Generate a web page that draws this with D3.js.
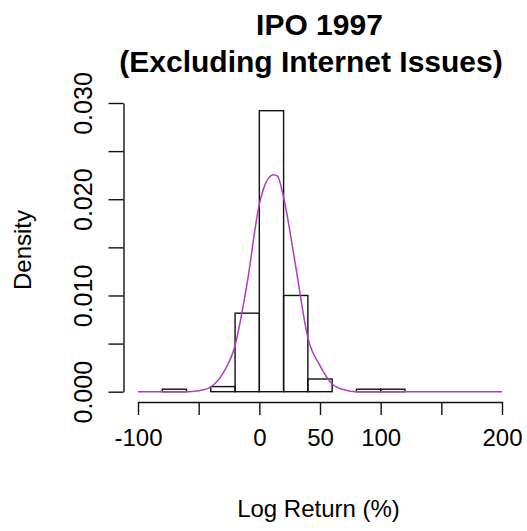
<!DOCTYPE html>
<html>
<head>
<meta charset="utf-8">
<script src="https://cdn.jsdelivr.net/npm/d3@7"></script>
<style>
  html, body { margin: 0; padding: 0; background: #fff; }
  svg { display: block; }
  text { font-family: "Liberation Sans", Arial, sans-serif; fill: #000; }
</style>
</head>
<body>
<script>
// ---- data ----
const titleLines = ["IPO 1997", "(Excluding Internet Issues)"];
const xLabel = "Log Return (%)";
const yLabel = "Density";

// histogram bins (left edge, right edge, density)
const binLeft  = [-80, -40, -20,   0,  20,  40,  80, 100];
const binRight = [-60, -20,   0,  20,  40,  60, 100, 120];
const binDensity = [0.00026, 0.00053, 0.00816, 0.0292, 0.0100, 0.00132, 0.00026, 0.00026];

// fitted density curve
const curveX = [-100, -60, -50, -40, -30, -20, -10, 0, 5, 10, 12, 15, 20, 30, 40, 50, 60, 70, 80, 200];
const curveY = [0, 0, 0.0001, 0.0005, 0.0019, 0.0048, 0.0113, 0.0195, 0.0216, 0.02248, 0.02255, 0.0224, 0.0202, 0.0130, 0.0056, 0.0027, 0.0008, 0.0002, 0, 0];

// axes
const xTicks = [-100, -50, 0, 50, 100, 150, 200];
const xTickLabels = ["-100", "", "0", "50", "100", "", "200"];
const yTicks = [0, 0.005, 0.010, 0.015, 0.020, 0.025, 0.030];
const yTickLabels = ["0.000", "", "0.010", "", "0.020", "", "0.030"];

// ---- drawing ----
const W = 527, H = 531;
const svg = d3.select("body").append("svg").attr("width", W).attr("height", H);
svg.append("rect").attr("width", W).attr("height", H).attr("fill", "#fff");

const x = d3.scaleLinear().domain([-100, 200]).range([138, 502]);
const y = d3.scaleLinear().domain([0, 0.03]).range([391.7, 103]);

// histogram bars
const bins = binLeft.map((l, i) => ({ l, r: binRight[i], d: binDensity[i] }));
svg.append("g").selectAll("rect").data(bins).join("rect")
  .attr("x", b => x(b.l))
  .attr("y", b => y(b.d))
  .attr("width", b => x(b.r) - x(b.l))
  .attr("height", b => y(0) - y(b.d))
  .attr("fill", "none")
  .attr("stroke", "#111")
  .attr("stroke-width", 1.4);

// density curve
const pts = curveX.map((v, i) => [v, curveY[i]]);
svg.append("path")
  .datum(pts)
  .attr("d", d3.line().x(p => x(p[0])).y(p => y(p[1])).curve(d3.curveMonotoneX))
  .attr("fill", "none")
  .attr("stroke", "#b23cc2")
  .attr("stroke-width", 1.5);

// x axis
const xAxis = svg.append("g").attr("transform", "translate(0,402)")
  .call(d3.axisBottom(x).tickValues(xTicks).tickSize(13).tickSizeOuter(0)
    .tickFormat((d, i) => xTickLabels[i]).tickPadding(31));
xAxis.select(".domain").attr("stroke", "#111").attr("stroke-width", 1.4);
xAxis.selectAll(".tick line").attr("stroke", "#111").attr("stroke-width", 1.4);
xAxis.selectAll(".tick text").attr("font-size", 24).attr("font-family", "Liberation Sans, Arial, sans-serif").attr("dy", 0).attr("fill", "#000");

// y axis
const yAxis = svg.append("g").attr("transform", "translate(123.5,0)")
  .call(d3.axisLeft(y).tickValues(yTicks).tickSize(15).tickSizeOuter(0).tickFormat((d, i) => yTickLabels[i]));
yAxis.select(".domain").attr("stroke", "#111").attr("stroke-width", 1.4);
yAxis.selectAll(".tick line").attr("stroke", "#111").attr("stroke-width", 1.4);
yAxis.selectAll(".tick text")
  .attr("font-size", 25)
  .attr("font-family", "Liberation Sans, Arial, sans-serif")
  .attr("fill", "#000")
  .attr("x", null).attr("dy", null)
  .attr("text-anchor", "middle")
  .attr("transform", "translate(-32,0) rotate(-90)");

// titles
svg.append("text").attr("x", 319.5).attr("y", 35).attr("text-anchor", "middle")
  .attr("font-size", 30).attr("font-weight", "bold").text(titleLines[0]);
svg.append("text").attr("x", 311).attr("y", 72).attr("text-anchor", "middle")
  .attr("font-size", 30).attr("font-weight", "bold").text(titleLines[1]);

// axis labels
svg.append("text").attr("x", 318.5).attr("y", 517).attr("text-anchor", "middle")
  .attr("font-size", 24).text(xLabel);
svg.append("text").attr("transform", "translate(31,250) rotate(-90)").attr("text-anchor", "middle")
  .attr("font-size", 24).text(yLabel);
</script>
</body>
</html>
